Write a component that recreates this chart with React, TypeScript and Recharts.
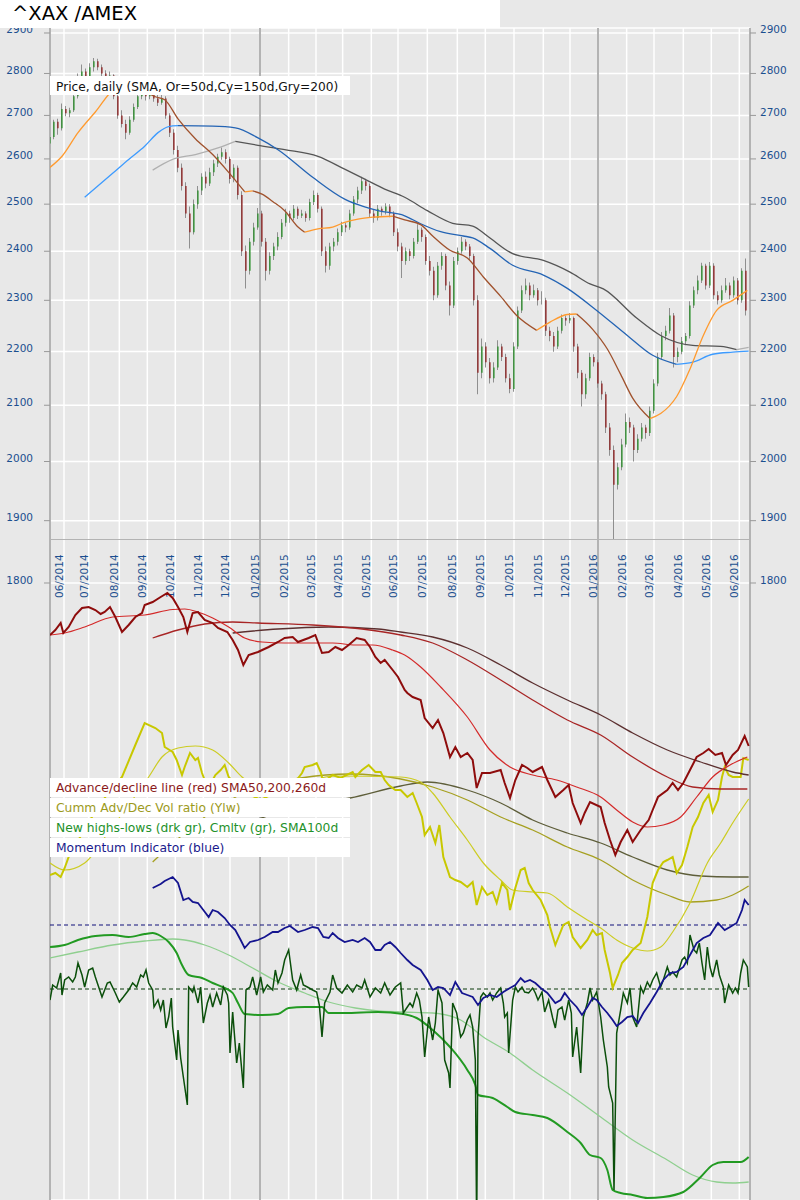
import React from 'react';
import { ComposedChart, Line, Bar, Cell, XAxis, YAxis, CartesianGrid, ReferenceLine } from 'recharts';

const FONT = '"DejaVu Sans", Verdana, sans-serif';
const LABEL_BLUE = '#1b4f8f';

// ---------- x axis (trading-day index) ----------
const X_DOMAIN: [number, number] = [0, 525];
const MONTH_TICKS = [10.5, 29, 52, 73, 94, 115, 135, 157.5, 179, 199.5, 219.5, 241, 261, 283, 305.5, 326.5, 348, 370, 390, 411, 432.5, 453, 475, 496, 517];
const MONTH_LABELS = ['06/2014', '07/2014', '08/2014', '09/2014', '10/2014', '11/2014', '12/2014', '01/2015', '02/2015', '03/2015', '04/2015', '05/2015', '06/2015', '07/2015', '08/2015', '09/2015', '10/2015', '11/2015', '12/2015', '01/2016', '02/2016', '03/2016', '04/2016', '05/2016', '06/2016'];
const YEAR_LINES = [157.5, 411];

// ---------- price axis ----------
const PRICE_TICKS = [1800, 1900, 2000, 2100, 2200, 2300, 2400, 2500, 2600, 2700, 2800, 2900];
const PRICE_DOMAIN: [number, number] = [1868.5, 2912.6];
const GRID_PRICE_DOMAIN: [number, number] = [1054.2, 2912.6];

// ---------- price candles (one candle per 3 trading days): [open, high, low, close] ----------
const CANDLE_STEP = 3;
const OHLC: [number, number, number, number][] = [
  [2635, 2672, 2625, 2650], [2650, 2690, 2645, 2685], [2685, 2692, 2655, 2670], [2670, 2728, 2665, 2715],
  [2715, 2722, 2698, 2705], [2705, 2718, 2696, 2712], [2712, 2752, 2708, 2745], [2745, 2800, 2740, 2790],
  [2790, 2822, 2785, 2805], [2805, 2812, 2765, 2780], [2780, 2825, 2775, 2815], [2815, 2838, 2805, 2830],
  [2830, 2836, 2808, 2815], [2815, 2822, 2792, 2800], [2800, 2808, 2782, 2790], [2790, 2805, 2780, 2795],
  [2795, 2798, 2738, 2745], [2745, 2750, 2692, 2700], [2700, 2712, 2672, 2680], [2680, 2690, 2645, 2660],
  [2660, 2698, 2655, 2690], [2690, 2728, 2685, 2720], [2720, 2752, 2715, 2745], [2745, 2768, 2738, 2760],
  [2760, 2765, 2735, 2745], [2745, 2758, 2738, 2750], [2750, 2756, 2732, 2740], [2740, 2748, 2722, 2730],
  [2730, 2752, 2725, 2740], [2740, 2745, 2692, 2700], [2700, 2705, 2650, 2660], [2660, 2668, 2610, 2620],
  [2620, 2630, 2570, 2580], [2580, 2590, 2530, 2540], [2540, 2548, 2470, 2480], [2480, 2495, 2406, 2440],
  [2440, 2510, 2435, 2500], [2500, 2540, 2490, 2530], [2530, 2568, 2520, 2560], [2560, 2572, 2535, 2545],
  [2545, 2580, 2540, 2570], [2570, 2598, 2562, 2590], [2590, 2612, 2582, 2605], [2605, 2626, 2598, 2615],
  [2615, 2622, 2590, 2600], [2600, 2605, 2545, 2555], [2555, 2588, 2548, 2580], [2580, 2585, 2510, 2520],
  [2520, 2528, 2390, 2400], [2400, 2412, 2324, 2360], [2360, 2428, 2352, 2420], [2420, 2460, 2412, 2450],
  [2450, 2492, 2445, 2480], [2480, 2486, 2410, 2420], [2420, 2428, 2340, 2360], [2360, 2398, 2352, 2390],
  [2390, 2418, 2382, 2410], [2410, 2440, 2402, 2430], [2430, 2468, 2425, 2460], [2460, 2490, 2452, 2480],
  [2480, 2486, 2460, 2470], [2470, 2498, 2465, 2490], [2490, 2495, 2468, 2475], [2475, 2488, 2470, 2480],
  [2480, 2485, 2462, 2470], [2470, 2512, 2465, 2505], [2505, 2530, 2498, 2520], [2520, 2525, 2482, 2490],
  [2490, 2495, 2390, 2400], [2400, 2410, 2356, 2370], [2370, 2418, 2362, 2410], [2410, 2428, 2400, 2420],
  [2420, 2448, 2412, 2440], [2440, 2462, 2432, 2455], [2455, 2460, 2440, 2450], [2450, 2488, 2445, 2480],
  [2480, 2518, 2475, 2510], [2510, 2538, 2502, 2530], [2530, 2560, 2522, 2550], [2550, 2556, 2530, 2540],
  [2540, 2545, 2470, 2480], [2480, 2488, 2460, 2470], [2470, 2498, 2465, 2490], [2490, 2495, 2475, 2485],
  [2485, 2502, 2478, 2495], [2495, 2500, 2472, 2480], [2480, 2485, 2432, 2440], [2440, 2448, 2400, 2410],
  [2410, 2418, 2345, 2380], [2380, 2408, 2372, 2400], [2400, 2405, 2380, 2390], [2390, 2428, 2385, 2420],
  [2420, 2457, 2415, 2445], [2445, 2450, 2420, 2430], [2430, 2435, 2372, 2380], [2380, 2390, 2350, 2360],
  [2360, 2368, 2300, 2310], [2310, 2378, 2305, 2370], [2370, 2398, 2362, 2390], [2390, 2395, 2320, 2330],
  [2330, 2338, 2270, 2290], [2290, 2388, 2285, 2380], [2380, 2408, 2372, 2400], [2400, 2430, 2395, 2420],
  [2420, 2425, 2402, 2410], [2410, 2415, 2382, 2390], [2390, 2395, 2290, 2300], [2300, 2310, 2120, 2160],
  [2160, 2225, 2150, 2210], [2210, 2218, 2170, 2180], [2180, 2188, 2140, 2150], [2150, 2180, 2142, 2170],
  [2170, 2222, 2165, 2210], [2210, 2215, 2182, 2190], [2190, 2196, 2142, 2150], [2150, 2158, 2122, 2130],
  [2130, 2218, 2125, 2210], [2210, 2288, 2205, 2280], [2280, 2330, 2275, 2320], [2320, 2344, 2312, 2330],
  [2330, 2336, 2300, 2310], [2310, 2332, 2305, 2320], [2320, 2325, 2290, 2300], [2300, 2318, 2292, 2300],
  [2300, 2305, 2230, 2240], [2240, 2248, 2220, 2230], [2230, 2238, 2200, 2210], [2210, 2248, 2205, 2240],
  [2240, 2272, 2235, 2265], [2265, 2270, 2250, 2260], [2260, 2275, 2255, 2265], [2265, 2268, 2200, 2210],
  [2210, 2215, 2150, 2160], [2160, 2165, 2098, 2120], [2120, 2158, 2112, 2150], [2150, 2198, 2145, 2190],
  [2190, 2195, 2172, 2180], [2180, 2185, 2132, 2140], [2140, 2145, 2110, 2120], [2120, 2125, 2050, 2060],
  [2060, 2068, 2010, 2020], [2020, 2028, 1860, 1960], [1960, 1998, 1952, 1990], [1990, 2040, 1985, 2030],
  [2030, 2085, 2025, 2070], [2070, 2078, 2050, 2060], [2060, 2065, 2000, 2020], [2020, 2048, 2015, 2040],
  [2040, 2068, 2035, 2060], [2060, 2065, 2040, 2050], [2050, 2098, 2045, 2090], [2090, 2148, 2085, 2140],
  [2140, 2198, 2135, 2190], [2190, 2238, 2185, 2230], [2230, 2250, 2222, 2240], [2240, 2285, 2235, 2270],
  [2270, 2275, 2170, 2190], [2190, 2208, 2180, 2200], [2200, 2228, 2195, 2220], [2220, 2236, 2212, 2230],
  [2230, 2298, 2225, 2290], [2290, 2328, 2285, 2320], [2320, 2350, 2312, 2340], [2340, 2376, 2335, 2370],
  [2370, 2374, 2322, 2330], [2330, 2378, 2325, 2370], [2370, 2375, 2302, 2310], [2310, 2318, 2292, 2300],
  [2300, 2330, 2295, 2320], [2320, 2345, 2315, 2330], [2330, 2336, 2302, 2310], [2310, 2348, 2305, 2340],
  [2340, 2345, 2292, 2300], [2300, 2365, 2295, 2360], [2360, 2385, 2270, 2280],
];

// ---------- price moving averages: [day, value] ----------
const SMA50: [number, number][] = [
  [0, 2581], [9, 2606], [21, 2660], [34, 2708], [49, 2764], [64, 2776], [79, 2744], [86, 2737], [96, 2692],
  [109, 2646], [122, 2610], [134, 2570], [146, 2527], [152, 2529], [159, 2522], [167, 2506], [176, 2486],
  [186, 2451], [191, 2440], [201, 2447], [212, 2451], [221, 2461], [231, 2468], [242, 2472], [257, 2474],
  [266, 2466], [278, 2456], [287, 2432], [300, 2402], [313, 2386], [325, 2347], [338, 2308], [350, 2270],
  [365, 2241], [375, 2257], [388, 2272], [395, 2273], [407, 2243], [418, 2205], [428, 2157], [437, 2113],
  [450, 2076], [458, 2085], [470, 2116], [480, 2167], [490, 2231], [500, 2280], [512, 2300], [523, 2320],
];
const SMA150: [number, number][] = [
  [26, 2515], [47, 2568], [59, 2599], [71, 2629], [81, 2660], [89, 2674], [96, 2676], [122, 2675], [139, 2671],
  [156, 2648], [171, 2621], [197, 2559], [221, 2511], [236, 2494], [246, 2486], [266, 2475], [278, 2458],
  [293, 2441], [310, 2432], [317, 2428], [330, 2406], [347, 2371], [370, 2351], [388, 2324], [410, 2280],
  [433, 2231], [452, 2193], [470, 2176], [482, 2180], [497, 2195], [512, 2199], [524, 2201],
];
const SMA200: [number, number][] = [
  [77, 2575], [92, 2599], [109, 2610], [126, 2625], [139, 2640], [156, 2631], [176, 2621], [201, 2606],
  [221, 2577], [236, 2555], [251, 2533], [266, 2515], [283, 2486], [302, 2459], [317, 2453], [328, 2432],
  [347, 2395], [370, 2381], [390, 2357], [405, 2333], [415, 2323], [440, 2265], [458, 2231], [482, 2212],
  [503, 2210], [515, 2204], [524, 2208],
];

// ---------- lower panel indicators: [day, value] ----------
const AD_LINE: [number, number][] = [
  [0, 650], [4, 700], [8, 770], [10, 670], [14, 730], [19, 850], [24, 920], [29, 930], [34, 900], [38, 860],
  [41, 880], [45, 930], [49, 830], [54, 680], [59, 750], [64, 830], [69, 870], [71, 950], [77, 980], [83, 1030],
  [88, 1070], [92, 1020], [96, 930], [100, 830], [103, 680], [107, 870], [111, 880], [116, 800], [122, 770],
  [126, 720], [133, 680], [137, 600], [141, 500], [145, 350], [149, 450], [156, 480], [164, 530], [171, 580],
  [176, 620], [182, 630], [186, 580], [194, 620], [199, 650], [204, 470], [209, 480], [214, 530], [219, 500],
  [224, 550], [230, 620], [236, 600], [240, 530], [244, 430], [248, 370], [251, 400], [257, 300], [261, 230],
  [266, 100], [268, 70], [272, 30], [278, 0], [281, -180], [287, -280], [291, -200], [295, -330], [300, -570],
  [304, -470], [308, -570], [313, -530], [317, -600], [320, -880], [324, -730], [330, -730], [338, -700],
  [341, -830], [345, -980], [349, -800], [354, -650], [358, -680], [362, -720], [369, -670], [373, -800],
  [379, -970], [385, -900], [389, -850], [392, -1030], [398, -1230], [401, -1130], [405, -1020], [413, -1070],
  [416, -1230], [420, -1400], [424, -1550], [428, -1420], [433, -1300], [437, -1420], [443, -1300], [449, -1200],
  [452, -1100], [456, -970], [463, -900], [467, -830], [471, -900], [475, -830], [480, -700], [485, -570],
  [490, -530], [494, -490], [499, -550], [504, -530], [507, -650], [512, -550], [516, -500], [521, -360], [524, -460],
];
const AD_SMA50: [number, number][] = [
  [0, 650], [11, 670], [26, 730], [47, 830], [71, 850], [92, 905], [101, 910], [111, 880], [122, 820], [134, 730],
  [146, 620], [159, 580], [176, 570], [197, 570], [212, 570], [229, 550], [242, 550], [257, 500], [266, 450],
  [278, 330], [293, 130], [313, -170], [330, -500], [345, -670], [362, -750], [380, -800], [395, -870],
  [413, -970], [425, -1100], [437, -1220], [448, -1270], [460, -1250], [473, -1170], [485, -970], [497, -770],
  [510, -650], [523, -570],
];
const AD_SMA200: [number, number][] = [
  [77, 620], [96, 700], [116, 760], [137, 780], [156, 770], [197, 750], [234, 710], [263, 650], [287, 570],
  [313, 400], [338, 200], [362, 0], [388, -200], [413, -350], [437, -570], [463, -770], [482, -870], [503, -890], [523, -890],
];
const AD_SMA260: [number, number][] = [
  [137, 670], [171, 710], [209, 730], [246, 710], [263, 680], [287, 630], [313, 520], [338, 350], [362, 170],
  [388, 0], [413, -150], [437, -330], [463, -500], [488, -620], [512, -720], [524, -750],
];
const VOL_RATIO: [number, number][] = [
  [0, 0.25], [4, 0.27], [8, 0.23], [11, 0.32], [14, 0.43], [30, 0.8], [45, 1.1], [54, 1.23], [64, 1.55], [71, 1.77],
  [79, 1.72], [84, 1.67], [86, 1.53], [92, 1.48], [95, 1.4], [99, 1.25], [101, 1.33], [105, 1.47], [109, 1.4],
  [111, 1.42], [114, 1.27], [116, 1.2], [120, 1.15], [124, 1.25], [128, 1.3], [131, 1.35], [134, 1.23],
  [143, 1.1], [158, 1.0], [173, 1.1], [185, 1.2], [189, 1.27], [191, 1.33], [197, 1.35], [200, 1.37], [203, 1.28],
  [205, 1.18], [212, 1.25], [218, 1.22], [227, 1.28], [229, 1.23], [234, 1.3], [239, 1.35], [244, 1.28],
  [248, 1.28], [251, 1.2], [254, 1.15], [259, 1.1], [263, 1.1], [268, 1.03], [272, 1.07], [275, 0.97],
  [279, 0.83], [281, 0.65], [285, 0.73], [289, 0.57], [292, 0.75], [295, 0.43], [300, 0.23], [304, 0.2],
  [308, 0.18], [313, 0.13], [317, 0.18], [320, -0.05], [324, 0.13], [328, 0.05], [332, 0.08], [335, -0.03],
  [339, 0.17], [343, 0.1], [345, -0.1], [349, 0.12], [353, 0.3], [356, 0.32], [359, 0.17], [362, 0.1],
  [368, 0.0], [373, -0.15], [375, -0.27], [379, -0.45], [385, -0.25], [389, -0.22], [392, -0.37], [398, -0.48],
  [403, -0.4], [407, -0.3], [410, -0.35], [414, -0.33], [416, -0.5], [420, -0.73], [422, -0.88], [426, -0.75],
  [429, -0.63], [433, -0.57], [437, -0.5], [443, -0.43], [448, -0.17], [452, 0.17], [456, 0.3], [460, 0.38],
  [463, 0.4], [467, 0.43], [470, 0.27], [474, 0.35], [478, 0.53], [482, 0.73], [486, 0.83], [490, 0.97],
  [494, 1.05], [497, 0.88], [501, 1.0], [504, 1.23], [506, 1.33], [509, 1.25], [512, 1.23], [518, 1.23],
  [520, 1.42], [524, 1.4],
];
const VOL_SMA50: [number, number][] = [
  [0, 0.37], [11, 0.3], [26, 0.37], [45, 0.7], [74, 1.23], [84, 1.43], [96, 1.52], [109, 1.54], [122, 1.5],
  [134, 1.37], [144, 1.23], [165, 1.1], [188, 1.15], [212, 1.24], [263, 1.23], [278, 1.18], [287, 1.07],
  [300, 0.83], [313, 0.6], [325, 0.37], [338, 0.2], [347, 0.1], [362, 0.08], [373, 0.07], [388, -0.07],
  [403, -0.2], [413, -0.28], [425, -0.4], [437, -0.48], [448, -0.51], [458, -0.47], [467, -0.32], [480, -0.03],
  [493, 0.37], [503, 0.57], [512, 0.77], [524, 1.01],
];
const VOL_SMA200: [number, number][] = [
  [77, 0.38], [113, 0.8], [150, 1.1], [188, 1.22], [225, 1.26], [263, 1.21], [287, 1.13], [313, 1.0], [338, 0.83],
  [362, 0.7], [388, 0.53], [413, 0.4], [437, 0.2], [463, 0.05], [480, -0.02], [500, 0.0], [512, 0.05], [524, 0.14],
];
const VOL_SMA260: [number, number][] = [
  [137, 0.7], [188, 0.95], [225, 1.02], [263, 1.14], [283, 1.18], [313, 1.1], [338, 0.97], [362, 0.8], [388, 0.67],
  [413, 0.57], [437, 0.43], [463, 0.3], [488, 0.24], [512, 0.23], [524, 0.23],
];
const HIGHS_LOWS: [number, number][] = [
  [0, -22], [2, 8], [5, 2], [8, 32], [9, -12], [11, 18], [14, 24], [17, 14], [19, 24], [21, 52], [24, 28], [26, 4],
  [29, 38], [32, 42], [34, 24], [36, 8], [39, -16], [43, 12], [45, 14], [49, -8], [52, -26], [55, -16], [59, -2],
  [62, 12], [65, 4], [68, 28], [70, 24], [72, 38], [74, 12], [77, -2], [78, -36], [81, -22], [83, -42], [85, -22],
  [87, -78], [89, -56], [91, -18], [92, -76], [95, -142], [96, -82], [98, -138], [100, -176], [103, -232], [104, 4],
  [107, -6], [108, 4], [111, -28], [113, 4], [115, -68], [118, -28], [120, -12], [122, -36], [125, -8], [128, -32],
  [130, 4], [133, -12], [134, -28], [135, -128], [137, -46], [140, -148], [142, -108], [145, -198], [147, -2],
  [150, 4], [152, 24], [155, -12], [158, 24], [160, -6], [163, 8], [167, -2], [169, 38], [171, 12], [174, 32],
  [176, 58], [179, 78], [180, 58], [182, 18], [185, -2], [188, 28], [190, 8], [193, 4], [197, -2], [200, -6],
  [202, -32], [204, -96], [206, -28], [210, -6], [212, 28], [215, 2], [219, -8], [223, 8], [227, -6], [230, 8],
  [234, 2], [236, 18], [240, -16], [244, 2], [248, -8], [251, 12], [255, -12], [259, 4], [263, 12], [265, -48],
  [268, -36], [270, -28], [272, -36], [275, -8], [277, -22], [279, -56], [281, -136], [284, -56], [287, -102],
  [289, -68], [291, -2], [294, -28], [296, -142], [299, -168], [300, -198], [302, -28], [305, -48], [308, -96],
  [310, -88], [313, -62], [315, -52], [317, -76], [319, -142], [320, -480], [321, -96], [323, -16], [325, -8],
  [328, -16], [330, -8], [332, -22], [335, -8], [338, 2], [340, -28], [341, -56], [343, -48], [344, -128],
  [347, -22], [349, 4], [351, -6], [354, 4], [356, -6], [359, -8], [362, 2], [364, -8], [366, -22], [369, -6],
  [371, -46], [374, -22], [377, -58], [379, -78], [381, -42], [384, -36], [386, -62], [389, -22], [391, -48],
  [392, -136], [395, -76], [398, -168], [400, -56], [403, -28], [405, 2], [407, -22], [410, -6], [413, -56],
  [415, -102], [418, -156], [419, -196], [422, -228], [423, -402], [425, -88], [428, -42], [430, -8], [433, -28],
  [435, 2], [437, -56], [440, -76], [443, 4], [445, -8], [448, 14], [450, 4], [452, 18], [455, 32], [458, 4],
  [460, 18], [463, 44], [465, 28], [467, 34], [470, 24], [474, 58], [476, 64], [478, 52], [480, 108], [483, 78],
  [485, 72], [487, 92], [489, 52], [491, 18], [493, 84], [495, 44], [497, 24], [500, 58], [502, 28], [505, 4],
  [506, -28], [509, 8], [512, -8], [514, 2], [516, -8], [518, 32], [520, 58], [523, 44], [524, 4],
];
const HL_CUMULATIVE: [number, number][] = [
  [0, 3060], [11, 3100], [21, 3200], [34, 3280], [47, 3300], [59, 3260], [71, 3320], [77, 3340], [83, 3280],
  [89, 3160], [95, 2940], [99, 2700], [104, 2500], [114, 2440], [122, 2340], [131, 2240], [137, 2140], [141, 1940],
  [146, 1720], [159, 1700], [171, 1720], [179, 1840], [191, 1860], [204, 1860], [209, 1740], [221, 1740],
  [246, 1760], [265, 1720], [275, 1640], [287, 1400], [300, 1060], [313, 600], [319, 300], [321, 100], [332, 40],
  [343, -140], [349, -240], [362, -300], [373, -360], [388, -640], [398, -860], [405, -1100], [413, -1160],
  [418, -1400], [422, -1800], [428, -1860], [437, -1900], [448, -1960], [460, -1940], [475, -1840], [488, -1540],
  [497, -1300], [505, -1240], [518, -1240], [524, -1140],
];
const HL_SMA100: [number, number][] = [
  [0, 2840], [21, 2960], [47, 3100], [71, 3180], [92, 3220], [101, 3200], [116, 3100], [134, 2900], [152, 2640],
  [171, 2360], [191, 2140], [209, 1960], [229, 1840], [246, 1780], [265, 1760], [287, 1740], [308, 1600],
  [325, 1260], [345, 940], [362, 600], [388, 140], [413, -340], [437, -800], [463, -1200], [482, -1500],
  [500, -1640], [512, -1660], [524, -1640],
];
const MOMENTUM: [number, number][] = [
  [77, 109.25], [83, 110.25], [86, 111], [92, 112], [96, 110.5], [100, 106.25], [104, 106.75], [107, 105.75],
  [111, 105.5], [115, 103.75], [119, 102], [122, 103.75], [126, 103.25], [131, 101.75], [135, 100], [139, 98.75],
  [143, 96.25], [146, 94.25], [150, 95.75], [156, 96.25], [161, 97], [167, 98.25], [171, 98.25], [176, 99.25],
  [180, 99.75], [186, 98.25], [191, 98.75], [197, 99.5], [201, 99.25], [205, 97], [209, 96.75], [212, 98],
  [216, 96.75], [221, 95.75], [227, 96.25], [231, 95.75], [236, 96.75], [240, 95.75], [244, 93.75], [248, 93.75],
  [251, 95], [255, 95.75], [259, 94.5], [263, 93], [268, 91.25], [272, 90], [278, 88.75], [283, 86.25],
  [287, 83.75], [291, 84.5], [295, 84.25], [300, 82.5], [304, 85.75], [309, 83], [313, 82.5], [317, 82],
  [321, 80], [325, 81.75], [330, 82.5], [335, 82], [340, 83.25], [345, 84.25], [349, 85], [353, 86.75],
  [356, 85.75], [360, 86.25], [364, 85.5], [368, 84.25], [373, 83], [379, 80.5], [383, 81.25], [386, 83],
  [390, 81.25], [395, 79.5], [399, 77.5], [403, 79.5], [407, 81.75], [410, 81.25], [414, 79.5], [418, 78],
  [422, 76.25], [425, 74.75], [429, 75.75], [433, 77], [437, 77.25], [441, 75.5], [445, 78], [450, 80.5],
  [455, 83.25], [460, 86.25], [465, 88], [470, 88.25], [475, 89.5], [480, 92.5], [485, 95.5], [490, 96.75],
  [495, 97.5], [501, 100.5], [506, 98.75], [510, 99.5], [515, 100.5], [519, 103.75], [521, 106.25], [524, 105],
];

// indicator scales (no visible axes)
const AD_DOMAIN: [number, number] = [-5000, 1100];
const VR_DOMAIN: [number, number] = [-3.0, 3.1];
const MO_DOMAIN: [number, number] = [31.25, 183.75];
const HL_DOMAIN: [number, number] = [-422, 798];
const CUM_DOMAIN: [number, number] = [-2000, 10200];

// ---------- derived structures ----------
const CANDLES = OHLC.map(([o, h, l, c], i) => ({
  d: i * CANDLE_STEP,
  wick: [l, h],
  body: [Math.min(o, c), Math.max(o, c)],
  up: c >= o,
}));

const pts = (arr: [number, number][]) => arr.map(([d, v]) => ({ d, v }));

function splitRuns(arr: [number, number][], upColor: string, downColor: string) {
  const runs: { color: string; data: { d: number; v: number }[] }[] = [];
  let cur: any = null;
  const raw: any[] = [];
  for (let i = 1; i < arr.length; i++) {
    const up = arr[i][1] >= arr[i - 1][1];
    if (!cur || cur.up !== up) {
      cur = { up, list: [arr[i - 1]] };
      raw.push(cur);
    }
    cur.list.push(arr[i]);
  }
  raw.forEach((r) => runs.push({ color: r.up ? upColor : downColor, data: pts(r.list) }));
  return runs;
}

const SMA_RUNS = [
  ...splitRuns(SMA200, '#b0b0b0', '#555555'),
  ...splitRuns(SMA150, '#3d9bff', '#2464b4'),
  ...splitRuns(SMA50, '#ff9a2e', '#a0522d'),
];

// ---------- tick renderers ----------
const LeftTick = (p: any) => (
  <text x={p.x} y={p.y} dy={0.5} textAnchor="end" fill={LABEL_BLUE} fontSize={10.5} fontFamily={FONT}>
    {p.payload.value}
  </text>
);
const RightTick = (p: any) => (
  <text x={p.x} y={p.y} dy={0.5} textAnchor="start" fill={LABEL_BLUE} fontSize={10.5} fontFamily={FONT}>
    {p.payload.value}
  </text>
);
const MonthTick = (p: any) => {
  const i = MONTH_TICKS.indexOf(p.payload.value);
  return (
    <text transform={`translate(${p.x - 1},598) rotate(-90)`} textAnchor="start" fill={LABEL_BLUE} fontSize={10.5} fontFamily={FONT}>
      {MONTH_LABELS[i]}
    </text>
  );
};

const layer: React.CSSProperties = { position: 'absolute', left: 0, top: 0 };

function GridLayer() {
  return (
    <ComposedChart width={800} height={1200} margin={{ top: 27, right: 0, bottom: 0, left: 0 }} data={CANDLES}>
      <CartesianGrid stroke="#ffffff" strokeWidth={1.5} />
      <XAxis dataKey="d" type="number" orientation="top" domain={X_DOMAIN} ticks={MONTH_TICKS} interval={0} height={1}
        tickLine={false} axisLine={false} tick={MonthTick} allowDataOverflow />
      <YAxis type="number" scale="log" domain={GRID_PRICE_DOMAIN} ticks={PRICE_TICKS} interval={0} width={50}
        allowDataOverflow tickSize={6} tickMargin={11} tickLine={{ stroke: '#999999' }}
        axisLine={{ stroke: '#b3b3b3', strokeWidth: 2 }} tick={LeftTick} />
      <YAxis yAxisId="r" orientation="right" type="number" scale="log" domain={GRID_PRICE_DOMAIN} ticks={PRICE_TICKS}
        interval={0} width={50} allowDataOverflow tickSize={6} tickMargin={4} tickLine={{ stroke: '#999999' }}
        axisLine={{ stroke: '#b3b3b3', strokeWidth: 2 }} tick={RightTick} />
      {YEAR_LINES.map((d) => (
        <ReferenceLine key={d} x={d} stroke="#b3b3b3" strokeWidth={2} />
      ))}
    </ComposedChart>
  );
}

function LowerLayer() {
  const line = (id: string, data: [number, number][], color: string, w: number, key: string, type: any = 'linear') => (
    <Line key={key} yAxisId={id} data={pts(data)} dataKey="v" type={type} stroke={color} strokeWidth={w}
      dot={false} activeDot={false} isAnimationActive={false} />
  );
  return (
    <ComposedChart width={800} height={1200} margin={{ top: 590, right: 50, bottom: 0, left: 50 }}>
      <XAxis dataKey="d" type="number" domain={X_DOMAIN} hide height={0} allowDataOverflow />
      <YAxis yAxisId="ad" type="number" domain={AD_DOMAIN} hide width={0} allowDataOverflow />
      <YAxis yAxisId="vr" type="number" domain={VR_DOMAIN} hide width={0} allowDataOverflow />
      <YAxis yAxisId="mo" type="number" domain={MO_DOMAIN} hide width={0} allowDataOverflow />
      <YAxis yAxisId="hl" type="number" domain={HL_DOMAIN} hide width={0} allowDataOverflow />
      <YAxis yAxisId="cum" type="number" domain={CUM_DOMAIN} hide width={0} allowDataOverflow />
      <ReferenceLine yAxisId="mo" y={100} stroke="#10107a" strokeDasharray="4 3" strokeWidth={1} />
      <ReferenceLine yAxisId="hl" y={0} stroke="#0a3a0a" strokeDasharray="4 3" strokeWidth={1} />
      {line('cum', HL_SMA100, '#8fcf8f', 1.3, 'hlsma', 'monotone')}
      {line('cum', HL_CUMULATIVE, '#229a22', 2, 'hlcum', 'monotone')}
      {line('hl', HIGHS_LOWS, '#0b4f0b', 1.5, 'hl')}
      {line('mo', MOMENTUM, '#14148f', 1.8, 'mo')}
      {line('vr', VOL_SMA260, '#5e5e3a', 1.3, 'vr260', 'monotone')}
      {line('vr', VOL_SMA200, '#a6a020', 1.3, 'vr200', 'monotone')}
      {line('vr', VOL_SMA50, '#cccc22', 1.2, 'vr50', 'monotone')}
      {line('vr', VOL_RATIO, '#c8c800', 2, 'vr')}
      {line('ad', AD_SMA260, '#5c3030', 1.3, 'ad260', 'monotone')}
      {line('ad', AD_SMA200, '#a82525', 1.3, 'ad200', 'monotone')}
      {line('ad', AD_SMA50, '#d42a2a', 1.2, 'ad50', 'monotone')}
      {line('ad', AD_LINE, '#8e0c0c', 2, 'ad')}
    </ComposedChart>
  );
}

function WickLayer() {
  return (
    <ComposedChart width={800} height={540} margin={{ top: 28, right: 50, bottom: 0, left: 50 }} data={CANDLES}>
      <XAxis dataKey="d" type="number" domain={X_DOMAIN} hide height={0} allowDataOverflow />
      <YAxis type="number" scale="log" domain={PRICE_DOMAIN} hide width={0} allowDataOverflow />
      <Bar dataKey="wick" barSize={1} fill="#8f8f8f" isAnimationActive={false} />
    </ComposedChart>
  );
}

function BodyLayer() {
  return (
    <ComposedChart width={800} height={540} margin={{ top: 28, right: 50, bottom: 0, left: 50 }} data={CANDLES}>
      <XAxis dataKey="d" type="number" domain={X_DOMAIN} hide height={0} allowDataOverflow />
      <YAxis type="number" scale="log" domain={PRICE_DOMAIN} hide width={0} allowDataOverflow />
      <Bar dataKey="body" barSize={3} isAnimationActive={false}>
        {CANDLES.map((c, i) => (
          <Cell key={i} fill={c.up ? '#1f8c1f' : '#8c1414'} />
        ))}
      </Bar>
      {SMA_RUNS.map((r, i) => (
        <Line key={'s' + i} data={r.data} dataKey="v" type="monotone" stroke={r.color} strokeWidth={1.3}
          dot={false} activeDot={false} isAnimationActive={false} />
      ))}
      <ReferenceLine y={PRICE_DOMAIN[0]} stroke="#b3b3b3" strokeWidth={2} />
    </ComposedChart>
  );
}

const LEGEND_ROWS = [
  { text: 'Advance/decline line (red) SMA50,200,260d', color: '#8b1a1a' },
  { text: 'Cumm Adv/Dec Vol ratio (Ylw)', color: '#9c9a1c' },
  { text: 'New highs-lows (drk gr), Cmltv (gr), SMA100d', color: '#23912a' },
  { text: 'Momentum Indicator (blue)', color: '#1a1a8c' },
];

export default function App() {
  return (
    <div style={{ position: 'absolute', left: 0, top: 0, width: 800, height: 1200, background: '#e8e8e8', overflow: 'hidden', fontFamily: FONT }}>
      <div style={layer}><GridLayer /></div>
      <div style={layer}><LowerLayer /></div>
      <div style={layer}><WickLayer /></div>
      <div style={layer}><BodyLayer /></div>
      <svg style={layer} width={800} height={1200}>
        <rect x={0} y={0} width={500} height={28} fill="#ffffff" />
        <text x={12} y={19.5} fontSize={19.5} fontFamily={FONT} fill="#000000">^XAX /AMEX</text>
        <rect x={50} y={76} width={300} height={19} fill="#ffffff" />
        <text x={56} y={90.5} fontSize={12.2} fontFamily={FONT} fill="#111111">Price, daily (SMA, Or=50d,Cy=150d,Gry=200)</text>
        {LEGEND_ROWS.map((r, i) => (
          <g key={i}>
            <rect x={50} y={778 + i * 20} width={300} height={19} fill="#ffffff" />
            <text x={56} y={792 + i * 20} fontSize={12.3} fontFamily={FONT} fill={r.color}>{r.text}</text>
          </g>
        ))}
      </svg>
    </div>
  );
}
